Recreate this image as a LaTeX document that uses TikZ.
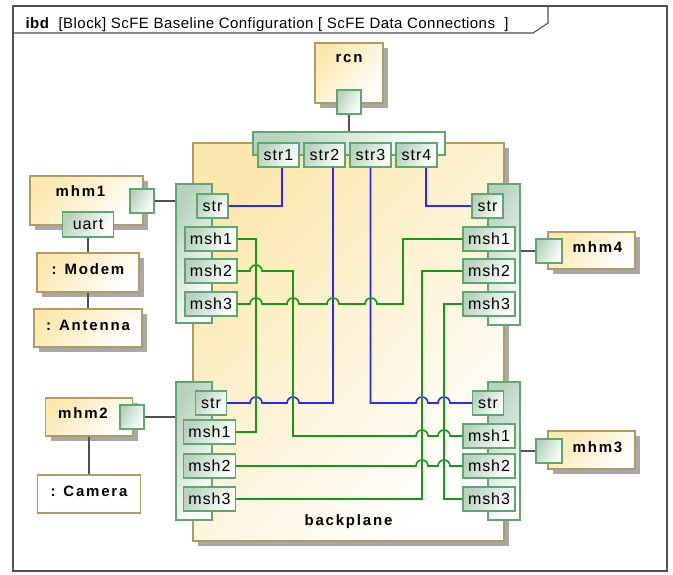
\documentclass[tikz,border=0pt]{standalone}
\usepackage{fontspec}
\setmainfont{Liberation Sans}
\usetikzlibrary{shadows}

\newfontfamily\titlefont[LetterSpace=3]{Liberation Sans}
\newfontfamily\portfont[LetterSpace=6]{Liberation Sans}
\newfontfamily\namefont[LetterSpace=12]{Liberation Sans}

\definecolor{blockfill}{RGB}{252,231,174}
\definecolor{blockline}{RGB}{176,156,98}
\definecolor{portfill}{RGB}{184,210,190}
\definecolor{portline}{RGB}{96,166,112}
\definecolor{shadowgray}{RGB}{168,168,168}
\definecolor{wireblue}{RGB}{40,40,255}
\definecolor{wiregreen}{RGB}{24,152,24}
\definecolor{linkgray}{RGB}{80,80,80}

% little bridge where a wire jumps over another one
\newcommand\hop{arc[start angle=180,end angle=360,radius=6]}

\begin{document}
\begin{tikzpicture}[x=1pt, y=-1pt,
    block/.style = {draw=blockline, line width=1.1pt, inner sep=0pt,
        top color=blockfill, bottom color=white, shading angle=45,
        general shadow={fill=shadowgray, shadow xshift=5pt, shadow yshift=-5pt}},
    plainblock/.style = {draw=blockline, line width=1.1pt, inner sep=0pt, fill=white},
    blockname/.style = {font=\namefont\bfseries\fontsize{15}{18}\selectfont},
    port/.style = {draw=portline, line width=1.1pt, inner sep=0pt,
        top color=portfill, bottom color=white, shading angle=60,
        font=\portfont\fontsize{16}{18}\selectfont},
    plug/.style = {port, minimum size=24},
    strport/.style = {port, minimum width=31, minimum height=24},
    mshport/.style = {port, minimum width=52, minimum height=24},
    link/.style = {draw=linkgray, line width=1.6pt},
    bluewire/.style = {draw=wireblue, line width=1.6pt},
    greenwire/.style = {draw=wiregreen, line width=1.6pt}]

\useasboundingbox (0,0) rectangle (673,574);

% Diagram frame
\draw[linkgray, line width=1.3pt] (13,6) rectangle (667,571);
\draw[linkgray, line width=1.1pt] (13,33) -- (533,33) -- (548,23) -- (548,6);
\node[anchor=base west, font=\titlefont\fontsize{15}{18}\selectfont] (title) at (22,28)
    {\textbf{ibd}\ \ [Block]\ ScFE Baseline Configuration [\ ScFE Data Connections\ \ ]};

% Backplane
\node[block, minimum width=311, minimum height=398,
    label={[blockname, yshift=-180pt]center:backplane}] (backplane) at (348.5,342) {};

% Port groups on the backplane
\node[port, minimum width=192, minimum height=23] (strgrp) at (349,143.5) {};
\node[port, minimum width=36, minimum height=139] (tlgrp) at (194,253.5) {};
\node[port, minimum width=36, minimum height=138] (blgrp) at (194,451) {};
\node[port, minimum width=32, minimum height=141] (trgrp) at (504,254.5) {};
\node[port, minimum width=32, minimum height=138] (brgrp) at (504,451) {};

% str ports under rcn
\node[port, minimum width=41, minimum height=24] (str1) at (278.5,155) {str1};
\node[port, minimum width=41, minimum height=24] (str2) at (324.5,155) {str2};
\node[port, minimum width=41, minimum height=24] (str3) at (370.5,155) {str3};
\node[port, minimum width=41, minimum height=24] (str4) at (416.5,155) {str4};

% Top left group
\node[strport] (tlstr) at (212.5,206) {str};
\node[mshport] (tlmsh1) at (211,239) {msh1};
\node[mshport] (tlmsh2) at (211,271) {msh2};
\node[mshport] (tlmsh3) at (211,304) {msh3};

% Bottom left group
\node[strport] (blstr) at (211,403) {str};
\node[mshport] (blmsh1) at (209.5,432) {msh1};
\node[mshport] (blmsh2) at (209.5,466) {msh2};
\node[mshport] (blmsh3) at (209.5,499) {msh3};

% Top right group
\node[strport] (trstr) at (487.5,206) {str};
\node[mshport] (trmsh1) at (489,239) {msh1};
\node[mshport] (trmsh2) at (489,271) {msh2};
\node[mshport] (trmsh3) at (489,304) {msh3};

% Bottom right group
\node[strport] (brstr) at (488,403) {str};
\node[mshport] (brmsh1) at (489,436) {msh1};
\node[mshport] (brmsh2) at (489,466) {msh2};
\node[mshport] (brmsh3) at (489,499) {msh3};

% rcn
\node[block, minimum width=68, minimum height=60,
    label={[blockname, yshift=14pt]center:rcn}] (rcn) at (349,73) {};
\node[plug] (rcnp) at (349,102) {};

% mhm1 with modem and antenna
\node[block, minimum width=113, minimum height=49,
    label={[blockname, xshift=-6pt, yshift=9pt]center:mhm1}] (mhm1) at (86.5,200.5) {};
\node[plug] (mhm1p) at (142,201) {};
\node[port, minimum width=51, minimum height=25] (uart) at (88,224.5) {uart};
\node[block, minimum width=102, minimum height=39,
    label={[blockname, yshift=3pt]center:{: Modem}}] (modem) at (88,272.5) {};
\node[block, minimum width=108, minimum height=38,
    label={[blockname, yshift=3pt]center:{: Antenna}}] (antenna) at (88,328) {};

% mhm2 with camera
\node[block, minimum width=87, minimum height=38,
    label={[blockname, xshift=-6pt, yshift=4pt]center:mhm2}] (mhm2) at (89,417) {};
\node[plug] (mhm2p) at (132,417) {};
\node[plainblock, minimum width=103, minimum height=38,
    label={[blockname, yshift=3pt]center:{: Camera}}] (camera) at (89,494) {};

% mhm4 and mhm3
\node[block, minimum width=87, minimum height=37,
    label={[blockname, xshift=6pt, yshift=3pt]center:mhm4}] (mhm4) at (591.5,250.5) {};
\node[plug, minimum width=26] (mhm4p) at (549,251) {};
\node[block, minimum width=87, minimum height=38,
    label={[blockname, xshift=6pt, yshift=3pt]center:mhm3}] (mhm3) at (591.5,450) {};
\node[plug, minimum width=26] (mhm3p) at (549,451) {};

% Connectors between blocks
\draw[link] (rcnp) -- (strgrp);
\draw[link] (mhm1p) -- (mhm1p -| tlgrp.west);
\draw[link] (mhm2p) -- (mhm2p -| blgrp.west);
\draw[link] (mhm4p) -- (mhm4p -| trgrp.east);
\draw[link] (mhm3p) -- (mhm3p -| brgrp.east);
\draw[link] (uart) -- (modem);
\draw[link] (modem) -- (antenna);
\draw[link] (mhm2) -- (camera);

% str wires
\draw[bluewire] ([xshift=3.5pt]str1.south) |- (tlstr.east);
\draw[bluewire] (blstr.east) -- (250,403) \hop -- (287,403) \hop
    -- (333,403) -- ([xshift=8.5pt]str2.south);
\draw[bluewire] (str3.south) -- (370.5,403) -- (416,403) \hop
    -- (438,403) \hop -- (brstr.west);
\draw[bluewire] ([xshift=9.5pt]str4.south) |- (trstr.west);

% msh wires
\draw[greenwire] (tlmsh1.east) -| (256,335) |- (blmsh1.east);
\draw[greenwire] (tlmsh2.east) -- (250,271) \hop -- (293,271) -- (293,436)
    -- (416,436) \hop -- (438,436) \hop -- (brmsh1.west);
\draw[greenwire] (tlmsh3.east) -- (250,304) \hop -- (287,304) \hop
    -- (327,304) \hop -- (365,304) \hop -- (403,304) |- (trmsh1.west);
\draw[greenwire] (trmsh2.west) -| (422,400) |- (blmsh3.east);
\draw[greenwire] (trmsh3.west) -| (444,400) |- (brmsh3.west);
\draw[greenwire] (blmsh2.east) -- (416,466) \hop -- (438,466) \hop -- (brmsh2.west);
\end{tikzpicture}
\end{document}
